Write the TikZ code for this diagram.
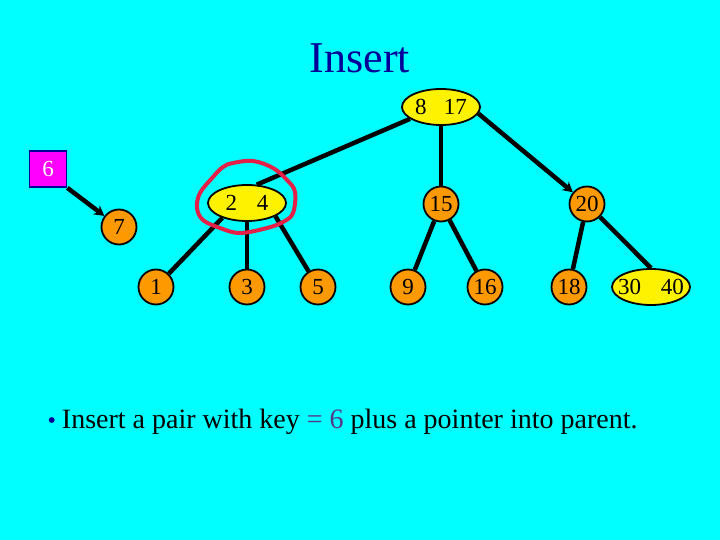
\documentclass[tikz,border=0pt]{standalone}
\usepackage{fontspec}
\setmainfont{Liberation Serif}
\usepackage{xcolor}
\usetikzlibrary{arrows.meta, positioning, shapes.geometric}

\definecolor{slidecyan}{RGB}{0,255,255}
\definecolor{titleblue}{RGB}{0,0,153}
\definecolor{keyorange}{RGB}{255,153,0}
\definecolor{newkey}{RGB}{255,0,255}
\definecolor{keymark}{RGB}{84,56,136}
\definecolor{loopred}{RGB}{228,32,72}

\begin{document}
\begin{tikzpicture}[
  x=1pt, y=-1pt,
  leaf/.style={draw, circle, fill=keyorange, line width=1.8pt, minimum size=35pt, inner sep=0pt, font=\fontsize{23}{23}\selectfont},
  pair/.style={draw, ellipse, fill=yellow, line width=1.8pt, minimum width=78pt, minimum height=36pt, inner sep=0pt, font=\fontsize{23}{23}\selectfont},
  ptr/.style={line width=4.5pt},
  arrow/.style={ptr, -{Stealth[length=10pt,width=11pt]}}
]
\fill[slidecyan] (0,0) rectangle (720,540);
\useasboundingbox (0,0) rectangle (720,540);

% Title
\node[anchor=base, text=titleblue, font=\fontsize{44}{44}\selectfont] (title) at (360,73) {Insert};

% Nodes
\node[pair] (root) at (441,107) {\makebox[0pt]{8\hspace{0.75em}17}};
\node[pair] (b24) at (247,203) {\makebox[0pt]{2\hspace{0.85em}4}};
\node[leaf] (n15) at (441,204) {15};
\node[leaf] (n20) at (587,204) {20};
\node[leaf] (n1) at (156,287) {1};
\node[leaf] (n3) at (247,287) {3};
\node[leaf] (n5) at (318,287) {5};
\node[leaf] (n9) at (408,287) {9};
\node[leaf] (n16) at (485,287) {16};
\node[leaf] (n18) at (569,287) {18};
\node[pair] (b3040) at (651,287) {\makebox[0pt]{30\hspace{0.85em}40}};
\node[leaf] (n7) at (119,227) {7};
\node[draw=titleblue, fill=newkey, line width=1.8pt, minimum width=37pt, minimum height=36pt, inner sep=0pt, text=white, font=\fontsize{23}{23}\selectfont] (n6) at (48,169) {6};

% Pointers
\draw[ptr] (root.201) -- (b24.62);
\draw[ptr] (root.south) -- (n15.north);
\draw[arrow] (root.-10) -- (n20);
\draw[ptr] (b24.211) -- (n1);
\draw[ptr] (b24.south) -- (n3.north);
\draw[ptr] (b24.-25) -- (n5);
\draw[ptr] (n15) -- (n9);
\draw[ptr] (n15) -- (n16);
\draw[ptr] (n20) -- (n18);
\draw[ptr] (n20) -- (b3040.north);
\draw[arrow] (n6.south east) -- (n7);

% Red loop round the full node
\draw[loopred, line width=4pt, line join=round] plot[smooth cycle, tension=0.6] coordinates {
  (233,163) (253,161) (273,168) (287,180) (295,192) (293,213) (283,222)
  (267,228) (240,233) (220,228) (203,220) (197,208) (200,193) (213,177) (223,167)};

% Text
\node[anchor=base west, font=\fontsize{28}{28}\selectfont] (note) at (44,428)
  {{\color{titleblue}\fontsize{24}{24}\selectfont\textbullet}\hspace{6pt}Insert a pair with key {\color{keymark}= 6} plus a pointer into parent.};
\end{tikzpicture}
\end{document}
